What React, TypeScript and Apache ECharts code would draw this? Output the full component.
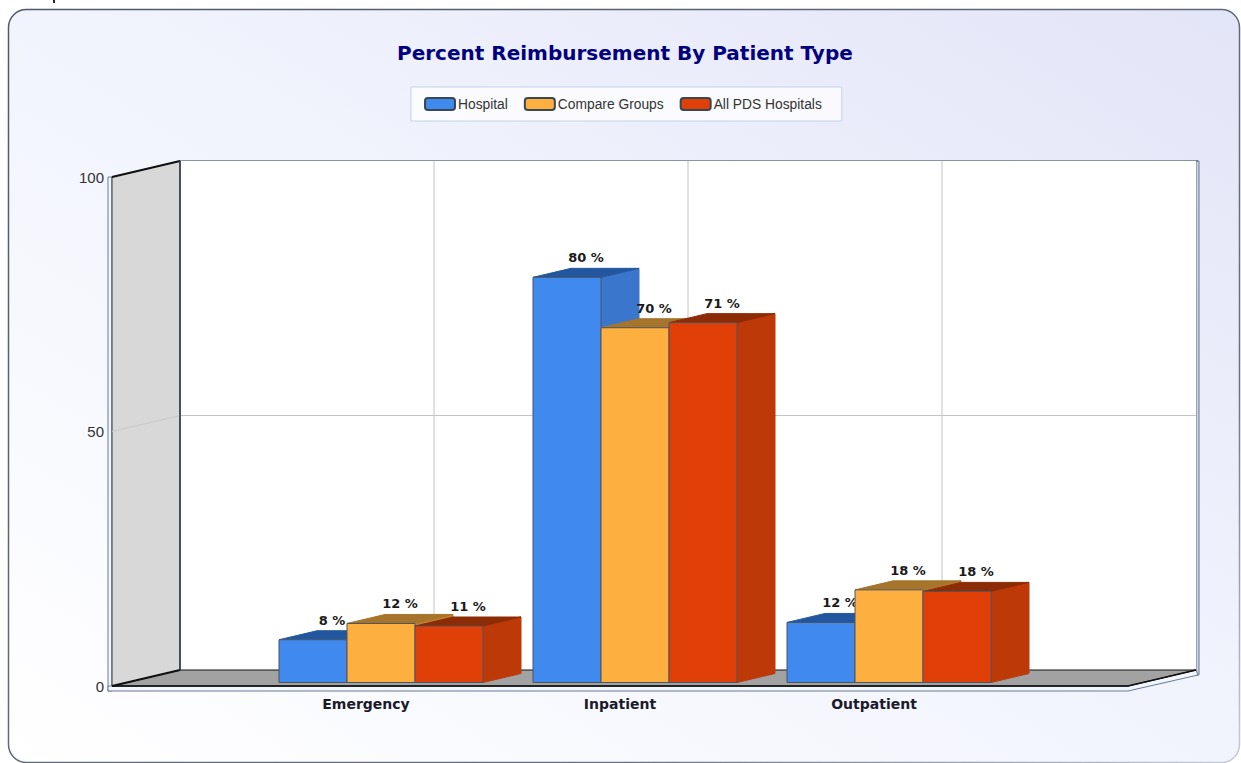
import React, { useEffect, useRef } from "react";
import * as echarts from "echarts";

const categories = ["", "Emergency", "Inpatient", "Outpatient", ""];
const yTicks = [0, 50, 100];
const hospital = [8.4, 79.6, 11.8];
const compareGroups = [11.6, 69.7, 18.2];
const allPds = [11.1, 70.7, 17.9];
const seriesNames = ["Hospital", "Compare Groups", "All PDS Hospitals"];
const seriesValues = [hospital, compareGroups, allPds];
const palette = [
  { front: "#3f89ef", side: "#3a76cc", top: "#22569e" },
  { front: "#fdb03f", side: "#c08430", top: "#a6742a" },
  { front: "#e04008", side: "#bd3a08", top: "#8c2c06" },
];

const BAR_W = 68;
const WALL_DX = 68;
const WALL_DY = 16;
const BAR_DX = 38;
const BAR_DY = 9;
const BAR_OX = 15;
const BAR_OY = 3.5;
const LINE = "#4a5562";

function renderFrame(params: any, api: any) {
  const cs = params.coordSys;
  const x0 = cs.x, x1 = cs.x + cs.width, y0 = cs.y, y1 = cs.y + cs.height;
  const bx0 = x0 + WALL_DX, bx1 = x1 + WALL_DX;
  const by0 = y0 - WALL_DY, by1 = y1 - WALL_DY;
  const children: any[] = [];
  const poly = (points: number[][], fill: string, stroke: string, lineWidth = 1) => ({
    type: "polygon", shape: { points }, style: { fill, stroke, lineWidth },
  });
  const line = (a: number[], b: number[], stroke: string, lineWidth = 1) => ({
    type: "line", shape: { x1: a[0], y1: a[1], x2: b[0], y2: b[1] }, style: { stroke, lineWidth },
  });
  // outer edges of the chart box
  children.push(poly([[bx1, by0], [bx1 + 3, by0], [bx1 + 3, by1 + 5], [bx1, by1 + 5]], "#c8d2e6", "#6b7a92"));
  children.push(line([bx0, by0], [bx1 + 2, by0], "#6b7484", 1.5));
  children.push(poly([[x0 - 4, y0], [x0, y0], [x0, y1 + 5], [x0 - 4, y1 + 5]], "#f2f6ff", "#6b7a92"));
  children.push(poly([[x0 - 4, y1], [x1, y1], [bx1, by1], [bx1 + 2, by1 + 5], [x1, y1 + 5], [x0 - 4, y1 + 5]], "#f2f6ff", "#6b7a92"));
  // back wall
  children.push({ type: "rect", shape: { x: bx0, y: by0, width: cs.width, height: cs.height }, style: { fill: "#ffffff" } });
  // vertical grid lines
  [1, 2, 3].forEach((c) => {
    const px = api.coord([c, 0])[0] + WALL_DX;
    children.push(line([px, by0], [px, by1], "#c4c4c4"));
  });
  // horizontal grid line
  const midY = api.coord([0, yTicks[1]])[1];
  children.push(line([bx0, midY - WALL_DY], [bx1, midY - WALL_DY], "#c4c4c4"));
  // floor
  children.push(poly([[x0, y1], [bx0, by1], [bx1, by1], [x1, y1]], "#a2a2a2", "#111111", 1));
  children.push(line([x0, y1], [x1, y1], "#111111", 1.5));
  children.push(line([x1, y1], [bx1, by1], "#111111", 1.5));
  // left wall
  children.push(poly([[x0, y0], [bx0, by0], [bx0, by1], [x0, y1]], "#d8d8d8", "#333a44", 1));
  children.push(line([x0, midY], [bx0, midY - WALL_DY], "#c8c8c8"));
  children.push(line([x0, y0], [bx0, by0], "#111111", 2));
  children.push(line([x0, y1], [bx0, by1], "#111111", 2));
  children.push(line([bx0, by0], [bx0, by1], "#333a44", 1.5));
  return { type: "group", children };
}

function makeBarRenderer(seriesIndex: number) {
  const colors = palette[seriesIndex];
  return (_params: any, api: any) => {
    const cat = api.value(0);
    const val = api.value(1);
    const base = api.coord([cat, 0]);
    const top = api.coord([cat, val]);
    const left = base[0] + BAR_OX - (BAR_W * 3) / 2 + BAR_W * seriesIndex;
    const right = left + BAR_W;
    const yb = base[1] - BAR_OY;
    const yt = top[1] - BAR_OY;
    const stroke = { stroke: LINE, lineWidth: 1 };
    return {
      type: "group",
      children: [
        { type: "polygon", shape: { points: [[right, yt], [right + BAR_DX, yt - BAR_DY], [right + BAR_DX, yb - BAR_DY], [right, yb]] }, style: { fill: colors.side, stroke: colors.side, lineWidth: 1 } },
        { type: "polygon", shape: { points: [[left, yt], [left + BAR_DX, yt - BAR_DY], [right + BAR_DX, yt - BAR_DY], [right, yt]] }, style: { fill: colors.top, stroke: colors.top, lineWidth: 1 } },
        { type: "rect", shape: { x: left, y: yt, width: BAR_W, height: yb - yt }, style: { fill: colors.front, ...stroke } },
        {
          type: "text",
          z2: 100,
          style: {
            text: `${Math.round(val)} %`,
            x: left + (BAR_W + BAR_DX) / 2,
            y: yt - BAR_DY - 4,
            align: "center",
            verticalAlign: "bottom",
            fill: "#1a1a1a",
            font: 'bold 13px "DejaVu Sans"',
          },
        },
      ],
    };
  };
}

export default function App() {
  const ref = useRef<HTMLDivElement>(null);
  useEffect(() => {
    const chart = echarts.init(ref.current!, undefined, { renderer: "svg" });
    const option: any = {
      animation: false,
      backgroundColor: "#ffffff",
      title: {
        text: "Percent Reimbursement By Patient Type",
        left: 397,
        top: 43,
        padding: 0,
        textStyle: { color: "#00007f", fontFamily: "DejaVu Sans", fontWeight: "bold", fontSize: 20 },
      },
      legend: {
        data: seriesNames,
        left: 411,
        top: 87,
        padding: [10, 20, 10, 13],
        itemGap: 16,
        itemWidth: 30,
        itemHeight: 12,
        icon: "roundRect",
        backgroundColor: "rgba(255,255,255,0.75)",
        borderColor: "#c3d3ea",
        borderWidth: 1,
        textStyle: { color: "#333333", fontFamily: "Liberation Sans", fontSize: 13.8, padding: [0, 0, 0, -2] },
      },
      grid: { left: 112, right: 113, top: 177, bottom: 77 },
      xAxis: {
        type: "category",
        data: categories,
        boundaryGap: false,
        axisLine: { show: false },
        axisTick: { show: false },
        splitLine: { show: false },
        axisLabel: {
          interval: 0,
          margin: 11,
          color: "#1a1a2a",
          fontFamily: "DejaVu Sans",
          fontWeight: "bold",
          fontSize: 14,
        },
      },
      yAxis: {
        type: "value",
        min: 0,
        max: 100,
        interval: 50,
        axisLine: { show: false },
        axisTick: { show: false },
        splitLine: { show: false },
        axisLabel: { margin: 8, color: "#333333", fontFamily: "Liberation Sans", fontSize: 15 },
      },
      graphic: [
        {
          type: "rect",
          z: -10,
          silent: true,
          shape: { x: 8.5, y: 9.5, width: 1231, height: 753, r: 18 },
          style: {
            fill: new echarts.graphic.LinearGradient(0, 1, 1, 0, [
              { offset: 0, color: "#ffffff" },
              { offset: 0.5, color: "#f2f4fd" },
              { offset: 1, color: "#e3e5f8" },
            ]),
            stroke: new echarts.graphic.LinearGradient(0, 0, 1, 1, [
              { offset: 0, color: "#4f5868" },
              { offset: 0.75, color: "#6a7282" },
              { offset: 1, color: "#c8ccd8" },
            ]),
            lineWidth: 1.5,
          },
        },
        { type: "rect", z: -9, silent: true, shape: { x: 53, y: 0, width: 2, height: 3 }, style: { fill: "#222222" } },
      ],
      series: [
        {
          type: "custom",
          name: "frame",
          silent: true,
          clip: false,
          coordinateSystem: "cartesian2d",
          renderItem: renderFrame,
          data: [[0, 0]],
          encode: { x: 0, y: 1 },
          z: 1,
        },
        ...seriesNames.map((name, i) => ({
          type: "custom",
          name,
          silent: true,
          clip: false,
          coordinateSystem: "cartesian2d",
          itemStyle: { color: palette[i].front, borderColor: "#3a4654", borderWidth: 1.5 },
          renderItem: makeBarRenderer(i),
          data: seriesValues[i].map((v, c) => [c + 1, v]),
          encode: { x: 0, y: 1 },
          z: 2 + i,
        })),
      ],
    };
    chart.setOption(option);
    return () => chart.dispose();
  }, []);
  return (
    <div
      ref={ref}
      style={{ position: "absolute", left: 0, top: 0, width: 1241, height: 763, overflow: "hidden" }}
    />
  );
}
